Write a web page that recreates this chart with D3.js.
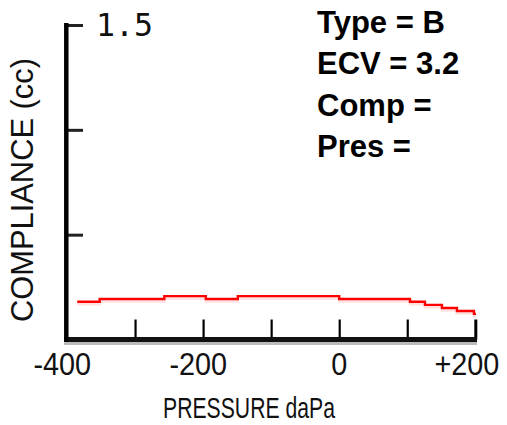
<!DOCTYPE html>
<html>
<head>
<meta charset="utf-8">
<script src="https://cdn.jsdelivr.net/npm/d3@7"></script>
<style>
  body { margin: 0; background: #fff; }
  svg { display: block; }
</style>
</head>
<body>
<div id="chart"></div>
<script>
// tympanogram readings (step trace)
const pressure = [-385, -352, -257, -196, -149, 0, 104, 126, 151, 173, 198, 201];
const compliance = [0.18, 0.193, 0.207, 0.193, 0.207, 0.193, 0.18, 0.165, 0.15, 0.136, 0.122, 0.122];

const xTickValues = [-300, -200, -100, 0, 100, 200];
const xLabels = [-400, -200, 0, 200];
const yTickValues = [0.5, 1.0, 1.5];
const yTopLabel = "1.5";
const infoLines = ["Type = B", "ECV = 3.2", "Comp =", "Pres ="];

const W = 507, H = 425;

const svg = d3.select("#chart").append("svg")
  .attr("width", W)
  .attr("height", H);

const x = d3.scaleLinear().domain([-400, 200]).range([67, 475.3]);
const y = d3.scaleLinear().domain([0, 1.5]).range([339.5, 25]);

// y axis ticks
const yAxis = d3.axisRight(y).tickValues(yTickValues).tickSize(16).tickFormat("");
const yg = svg.append("g").attr("transform", "translate(67,0)").call(yAxis);
yg.select(".domain").remove();
yg.selectAll(".tick line").attr("stroke", "#222").attr("stroke-width", 3);

// x axis ticks
const xAxis = d3.axisTop(x).tickValues(xTickValues).tickSize(20).tickFormat("");
const xg = svg.append("g").attr("transform", `translate(0,${y(0)})`).call(xAxis);
xg.select(".domain").remove();
xg.selectAll(".tick line").attr("stroke", "#000").attr("stroke-width", 2.2);
xg.selectAll(".tick").filter(d => d === 200).select("line").attr("stroke-width", 3);

// axis lines
svg.append("line")
  .attr("x1", 64).attr("x2", 477)
  .attr("y1", 343.5).attr("y2", 343.5)
  .attr("stroke", "#bbb").attr("stroke-width", 3);
svg.append("line")
  .attr("x1", 64).attr("x2", 477)
  .attr("y1", y(0)).attr("y2", y(0))
  .attr("stroke", "#111").attr("stroke-width", 5);
svg.append("line")
  .attr("x1", 66.3).attr("x2", 66.3)
  .attr("y1", 23).attr("y2", 342)
  .attr("stroke", "#000").attr("stroke-width", 4.5);

// trace
const pts = pressure.map((p, i) => [p, compliance[i]]);
const line = d3.line()
  .x(d => x(d[0]))
  .y(d => y(d[1]))
  .curve(d3.curveStepAfter);

svg.append("path")
  .datum(pts)
  .attr("d", line)
  .attr("transform", "translate(0,2.5)")
  .attr("fill", "none")
  .attr("stroke", "#ffe2e2")
  .attr("stroke-width", 2.6);
svg.append("path")
  .datum(pts)
  .attr("d", line)
  .attr("fill", "none")
  .attr("stroke", "#ff0000")
  .attr("stroke-width", 2.4);

// x tick labels: digits centred on tick, sign hung to the left
const labFont = "Liberation Sans, Arial, sans-serif";
xLabels.forEach(v => {
  const g = svg.append("g").attr("transform", `translate(${x(v)},375) scale(0.9,1)`);
  const num = g.append("text")
    .attr("text-anchor", "middle")
    .attr("font-family", labFont)
    .attr("font-size", 32)
    .attr("fill", "#111")
    .text(Math.abs(v));
  const half = num.node().getComputedTextLength() / 2;
  if (v !== 0) {
    g.append("text")
      .attr("x", -half)
      .attr("text-anchor", "end")
      .attr("font-family", labFont)
      .attr("font-size", 32)
      .attr("fill", "#111")
      .text(v < 0 ? "-" : "+");
  }
});

// axis titles
svg.append("text")
  .attr("x", 163).attr("y", 418)
  .attr("font-family", labFont)
  .attr("font-size", 29)
  .attr("fill", "#111")
  .attr("textLength", 172)
  .attr("lengthAdjust", "spacingAndGlyphs")
  .text("PRESSURE daPa");

svg.append("text")
  .attr("transform", "translate(33,322) rotate(-90)")
  .attr("font-family", labFont)
  .attr("font-size", 31)
  .attr("fill", "#111")
  .attr("textLength", 264)
  .attr("lengthAdjust", "spacingAndGlyphs")
  .text("COMPLIANCE (cc)");

// top y label
svg.append("text")
  .attr("x", 96).attr("y", 36)
  .attr("font-family", "DejaVu Sans Mono, monospace")
  .attr("font-size", 32)
  .attr("fill", "#111")
  .attr("textLength", 57)
  .attr("lengthAdjust", "spacingAndGlyphs")
  .text(yTopLabel);

// info block
svg.append("g").selectAll("text")
  .data(infoLines)
  .join("text")
  .attr("x", 317)
  .attr("y", (d, i) => 33 + i * 41.3)
  .attr("font-family", "Liberation Sans, Arial, sans-serif")
  .attr("font-weight", "bold")
  .attr("font-size", 31)
  .attr("fill", "#000")
  .text(d => d);
</script>
</body>
</html>
